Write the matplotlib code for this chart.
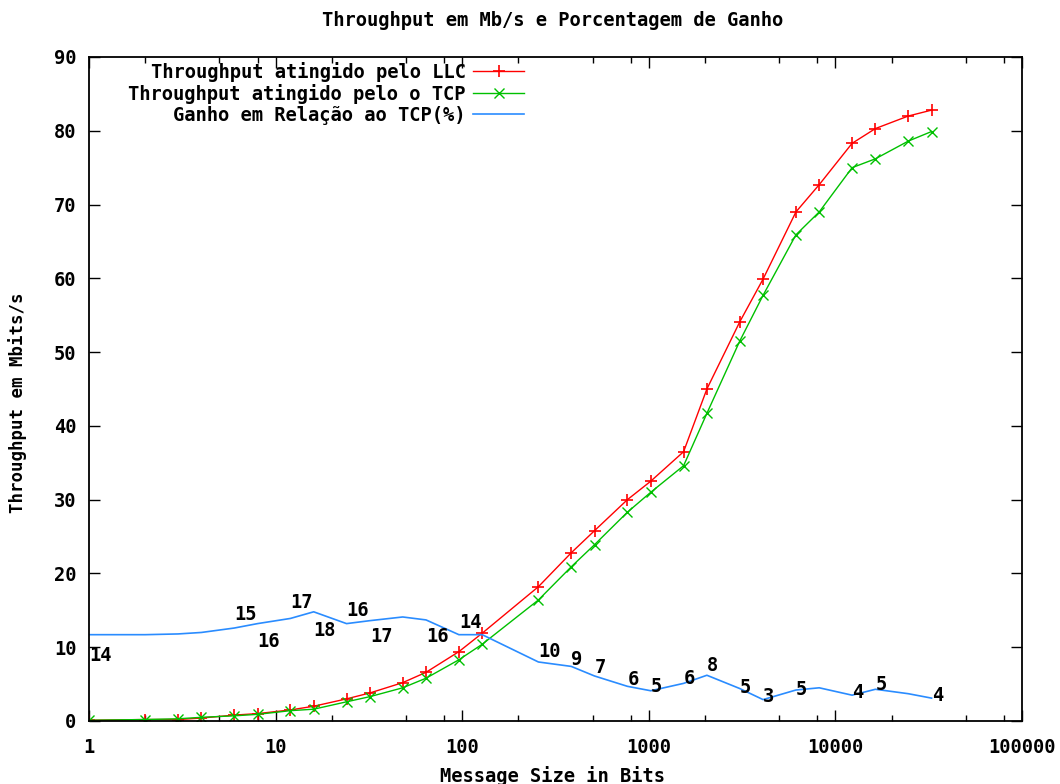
import matplotlib
matplotlib.use("Agg")
from matplotlib import pyplot as plt
from matplotlib.ticker import FixedLocator, NullFormatter

plt.rcParams["font.family"] = ["DejaVu Sans Mono"]
plt.rcParams["font.weight"] = "bold"

# message sizes (bits)
sizes = [1, 2, 3, 4, 6, 8, 12, 16, 24, 32, 48, 64, 96, 128, 256, 384, 512, 768,
         1024, 1536, 2048, 3072, 4096, 6144, 8192, 12288, 16384, 24576, 32768]

llc = [0.1, 0.2, 0.2, 0.4, 0.8, 1.0, 1.5, 2.0, 3.0, 3.8, 5.2, 6.6, 9.4, 11.9,
       18.2, 22.8, 25.8, 30.0, 32.5, 36.5, 45.0, 54.1, 59.9, 69.0, 72.7, 78.3,
       80.3, 82.0, 82.8]

tcp = [0.1, 0.2, 0.3, 0.5, 0.7, 0.9, 1.4, 1.6, 2.6, 3.3, 4.5, 5.8, 8.3, 10.4,
       16.4, 20.9, 23.9, 28.3, 31.0, 34.6, 41.7, 51.5, 57.7, 65.9, 69.0, 75.0,
       76.2, 78.6, 79.9]

ganho = [11.7, 11.7, 11.8, 12.0, 12.6, 13.2, 13.9, 14.8, 13.2, 13.6, 14.1, 13.7,
         11.7, 11.7, 8.0, 7.4, 6.1, 4.7, 4.1, 5.1, 6.2, 4.4, 2.9, 4.2, 4.5, 3.5,
         4.3, 3.7, 3.1]

# percentage labels written on the chart
lab_x = [1, 6, 8, 12, 16, 24, 32, 64, 96, 256, 384, 512, 768, 1024, 1536, 2048,
         3072, 4096, 6144, 12288, 16384, 32768]
lab_y = [8.9, 14.4, 10.8, 16.1, 12.3, 15.0, 11.5, 11.5, 13.3, 9.4, 8.3, 7.3, 5.6,
         4.7, 5.8, 7.5, 4.6, 3.3, 4.3, 3.9, 5.0, 3.5]
lab_txt = ["14", "15", "16", "17", "18", "16", "17", "16", "14", "10", "9", "7",
           "6", "5", "6", "8", "5", "3", "5", "4", "5", "4"]

fs = 13.5
fig = plt.figure(figsize=(10.6, 7.84), dpi=100)
ax = fig.add_axes([89 / 1060, 1 - 721 / 784, (1022 - 89) / 1060, (721 - 57) / 784])

ax.plot(sizes, llc, color="#ff0000", lw=1, marker="+", markersize=8,
        markeredgewidth=1.2, label="Throughput atingido pelo LLC")
ax.plot(sizes, tcp, color="#00c000", lw=1, marker="x", markersize=6.5,
        markeredgewidth=1.0, label="Throughput atingido pelo o TCP")
ax.plot(sizes, ganho, color="#2a8cff", lw=1.2, label="Ganho em Relação ao TCP(%)")

for x, y, t in zip(lab_x, lab_y, lab_txt):
    ax.text(x, y, t, ha="left", va="center", fontsize=fs, fontweight="bold")

ax.set_xscale("log")
ax.set_xlim(1, 100000)
ax.set_ylim(0, 90)
xt = [1, 10, 100, 1000, 10000, 100000]
ax.xaxis.set_major_locator(FixedLocator(xt))
ax.set_xticklabels([str(v) for v in xt])
minors = [m * 10 ** d for d in range(5) for m in (2, 5, 8)]
ax.xaxis.set_minor_locator(FixedLocator(minors))
ax.xaxis.set_minor_formatter(NullFormatter())
ax.set_yticks(range(0, 91, 10))

ax.tick_params(which="both", direction="in", top=True, right=True, labelsize=fs)
ax.tick_params(which="major", length=8, width=1)
ax.tick_params(which="minor", length=4, width=1)
ax.tick_params(axis="x", pad=12)
ax.tick_params(axis="y", pad=9)
for s in ax.spines.values():
    s.set_linewidth(1.3)

ax.legend(loc="upper right", bbox_to_anchor=(524 / 1060, 1 - 62 / 784),
          bbox_transform=fig.transFigure, frameon=False, markerfirst=False,
          fontsize=fs, handlelength=2.7, handletextpad=0.4, labelspacing=0.1,
          borderpad=0, borderaxespad=0)

fig.text(553 / 1060, 1 - 21 / 784, "Throughput em Mb/s e Porcentagem de Ganho",
         ha="center", va="center", fontsize=fs, fontweight="bold")
fig.text(552 / 1060, 1 - 776 / 784, "Message Size in Bits",
         ha="center", va="center", fontsize=fs, fontweight="bold")
fig.text(18 / 1060, 1 - 403 / 784, "Throughput em Mbits/s", rotation=90,
         ha="center", va="center", fontsize=12.5, fontweight="bold")

fig.savefig("out.png", dpi=100)
